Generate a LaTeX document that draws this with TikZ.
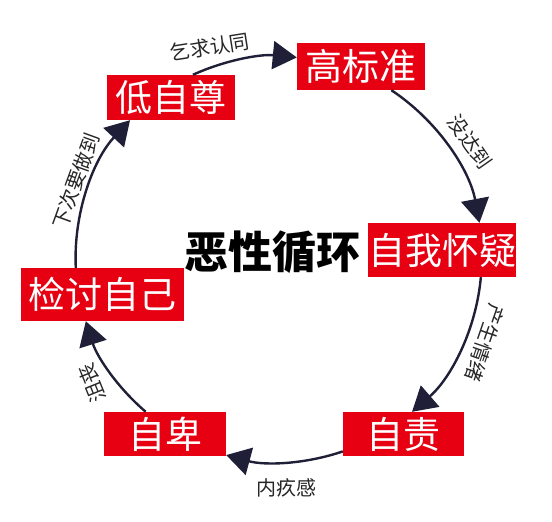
\documentclass[tikz,border=0pt]{standalone}
\usepackage{fontspec}
\setmainfont{Noto Sans CJK SC}
\usepackage{xcolor}
\usepackage{tikz}
\usetikzlibrary{arrows.meta}

\definecolor{boxred}{HTML}{E60012}
\definecolor{arrnavy}{HTML}{1F1F38}

\begin{document}
\begin{tikzpicture}[
      x=1pt, y=1pt,
      box/.style={fill=boxred, text=white, align=center, inner sep=0pt,
        font=\fontsize{37}{37}\selectfont},
      lbl/.style={text=black!85, inner sep=0pt, font=\fontsize{20}{20}\selectfont},
      title/.style={font=\fontsize{44}{44}\selectfont\bfseries},
      arr/.style={-{Triangle[length=24pt, width=28pt]}, line width=2.4pt,
        color=arrnavy, looseness=0.88},
    ]
    \useasboundingbox (0,0) rectangle (552,522);

    % Cycle stages
    \node[box, minimum width=128pt, minimum height=47pt] (high)  at (361,455.5) {高标准};
    \node[box, minimum width=128pt, minimum height=45pt] (low)   at (171,424.5) {低自尊};
    \node[box, minimum width=148pt, minimum height=54pt] (doubt) at (442,272)   {自我怀疑};
    \node[box, minimum width=163pt, minimum height=53pt] (check) at (102.5,227.5) {检讨自己};
    \node[box, minimum width=122pt, minimum height=44pt] (infer) at (165,88)    {自卑};
    \node[box, minimum width=121pt, minimum height=44pt] (blame) at (403.5,88)  {自责};

    \node[title] (cycle) at (272,270) {恶性循环};

    % Connections
    \draw[arr] (low.46)   to[bend left=15] (high.172);
    \draw[arr] (high.-38) to[bend left=23] (doubt.36);
    \draw[arr] (doubt.-35) to[bend left=22] (blame.69);
    \draw[arr] (blame.196) to[bend left=17] (infer.-19);
    \draw[arr] (infer.131) to[bend left=16] (check.238);
    \draw[arr] (check.135) to[bend left=23] (low.209);

    % Edge labels
    \node[lbl, rotate=9]    (l1) at (210,475) {乞求认同};
    \node[lbl, rotate=-55]  (l2) at (470,380) {没达到};
    \node[lbl, rotate=-109] (l3) at (485,179) {产生情绪};
    \node[lbl]              (l4) at (286,34)  {内疚感};
    \node[lbl, rotate=112]  (l5) at (92,139)  {沮丧};
    \node[lbl, rotate=70]   (l6) at (76,341)  {下次要做到};
  \end{tikzpicture}
\end{document}
